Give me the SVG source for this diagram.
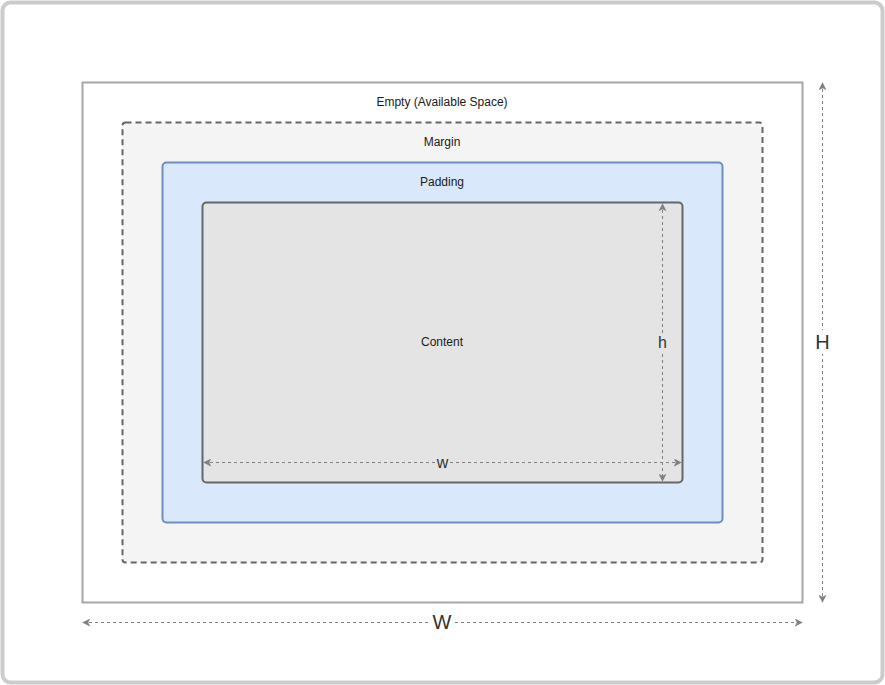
<svg xmlns="http://www.w3.org/2000/svg" width="885" height="685" viewBox="0 0 885 685">
<defs>
<style>
.lbl{font-family:"Liberation Sans",Arial,sans-serif;font-size:12px;fill:#1a1a1a;text-anchor:middle;dominant-baseline:central}
.dim{font-family:"Liberation Sans",Arial,sans-serif;fill:#333;text-anchor:middle;dominant-baseline:central}
.dl{fill:none;stroke:#808080;stroke-width:1;stroke-dasharray:3 3}
</style>
<marker id="ah" viewBox="0 0 10 10" refX="9" refY="5" markerWidth="8" markerHeight="8" markerUnits="userSpaceOnUse" orient="auto-start-reverse">
<path d="M0,0 L10,5 L0,10 L2.5,5 Z" fill="#808080"/>
</marker>
</defs>
<rect x="2.5" y="2.5" width="880" height="680" rx="8" fill="#fff" stroke="#cccccc" stroke-width="4"/>
<g id="empty">
<rect x="82.5" y="82.5" width="720" height="520" fill="#fff" stroke="#a6a6a6" stroke-width="2"/>
<text class="lbl" x="442" y="102">Empty (Available Space)</text>
</g>
<g id="margin">
<rect x="122.5" y="122.5" width="640" height="440" rx="3" fill="#f4f4f4" stroke="#666" stroke-width="2" stroke-dasharray="6 4"/>
<text class="lbl" x="442" y="142">Margin</text>
</g>
<g id="padding">
<rect x="162.5" y="162.5" width="560" height="360" rx="4" fill="#dae8fc" stroke="#6c8ebf" stroke-width="2"/>
<text class="lbl" x="442" y="182">Padding</text>
</g>
<g id="content">
<rect x="202.5" y="202.5" width="480" height="280" rx="4" fill="#e4e4e4" stroke="#666" stroke-width="2"/>
<text class="lbl" x="442" y="342">Content</text>
</g>
<g id="connectors">
<line class="dl" x1="662.5" y1="204" x2="662.5" y2="481" marker-start="url(#ah)" marker-end="url(#ah)"/>
<line class="dl" x1="204" y1="462.5" x2="681" y2="462.5" marker-start="url(#ah)" marker-end="url(#ah)"/>
<line class="dl" x1="822.5" y1="83" x2="822.5" y2="602" marker-start="url(#ah)" marker-end="url(#ah)"/>
<line class="dl" x1="83" y1="622.5" x2="802" y2="622.5" marker-start="url(#ah)" marker-end="url(#ah)"/>
<rect x="655" y="333" width="15" height="18" fill="#e4e4e4"/>
<text class="dim" x="662.5" y="342" font-size="16">h</text>
<rect x="435" y="455" width="15" height="15" fill="#e4e4e4"/>
<text class="dim" x="442.5" y="462" font-size="16">w</text>
<rect x="812" y="330" width="21" height="24" fill="#fff"/>
<text class="dim" x="822.5" y="342" font-size="20">H</text>
<rect x="430" y="610" width="24" height="24" fill="#fff"/>
<text class="dim" x="442" y="622" font-size="20">W</text>
</g>
</svg>
